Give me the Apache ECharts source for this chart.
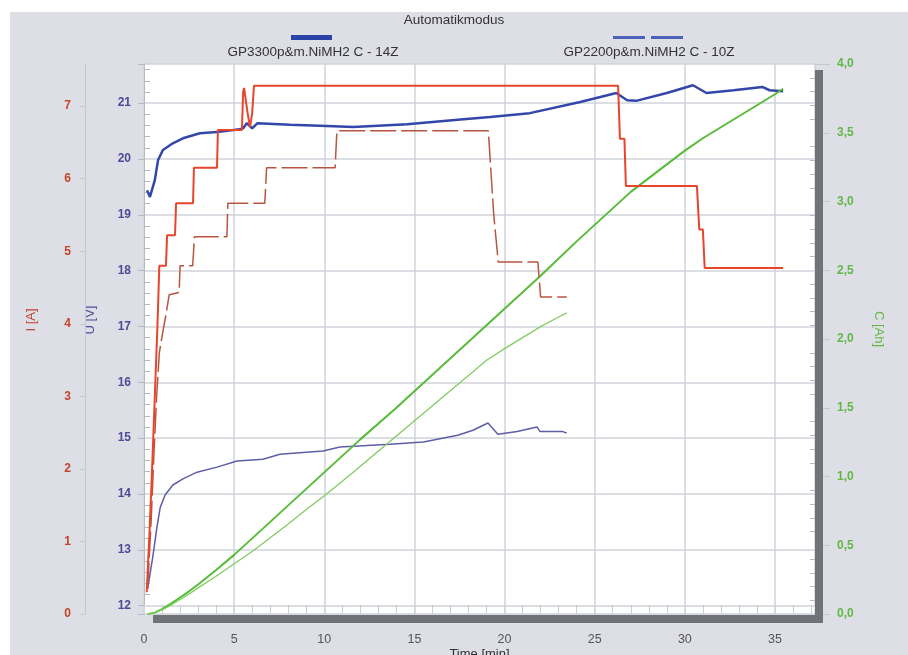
<!DOCTYPE html>
<html><head><meta charset="utf-8">
<script src="https://cdn.jsdelivr.net/npm/echarts@6/dist/echarts.min.js"></script>
<style>html,body{margin:0;padding:0;background:#fff}#c{width:908px;height:655px}</style>
</head><body><div id="c"></div>
<script>
// ---- data (time in min) ----
const title = 'Automatikmodus';
const name14 = 'GP3300p&m.NiMH2 C - 14Z';
const name10 = 'GP2200p&m.NiMH2 C - 10Z';

const tI14 = [0.15,0.3,0.45,0.6,0.75,0.85,0.95,1.22,1.28,1.72,1.78,2.72,2.77,4.05,4.1,5.43,5.5,5.55,5.65,5.75,5.88,6.0,6.1,26.3,26.4,26.65,26.73,30.67,30.8,31.0,31.1,35.45];
const I14  = [0.3,1.1,2.0,3.0,4.0,4.8,4.8,4.8,5.22,5.22,5.66,5.66,6.15,6.15,6.67,6.67,7.2,7.25,7.25,6.9,6.71,6.9,7.28,7.28,6.55,6.55,5.9,5.9,5.3,5.3,4.77,4.77];

const tI10 = [0.2,0.4,0.55,0.7,0.85,1.05,1.2,1.4,1.95,2.0,2.7,2.8,4.6,4.65,6.7,6.8,10.6,10.7,19.1,19.4,19.65,21.85,22.0,23.45];
const I10  = [0.35,1.3,2.2,3.0,3.6,3.9,4.1,4.4,4.43,4.8,4.8,5.2,5.2,5.66,5.66,6.15,6.15,6.66,6.66,5.5,4.85,4.85,4.37,4.37];

const tU14 = [0.17,0.33,0.6,0.78,1.05,1.6,2.16,3.1,4.05,5.3,5.5,5.7,6.0,6.3,8.1,10.15,11.6,14.6,17.4,19.2,21.4,24.2,26.2,26.8,27.3,29.0,30.45,31.2,32.7,34.3,34.7,35.45];
const U14  = [19.44,19.32,19.62,19.98,20.16,20.28,20.37,20.46,20.48,20.53,20.55,20.64,20.55,20.64,20.61,20.59,20.57,20.62,20.70,20.75,20.82,21.02,21.18,21.05,21.04,21.18,21.32,21.18,21.23,21.29,21.23,21.21];

const tU10 = [0.2,0.5,0.72,0.9,1.17,1.6,2.16,2.94,4.05,5.16,6.6,7.54,9.93,10.87,13.64,15.5,17.4,18.25,19.08,19.63,20.7,21.8,21.96,23.2,23.45];
const U10  = [12.3,12.9,13.41,13.76,13.98,14.16,14.27,14.39,14.48,14.59,14.62,14.71,14.77,14.84,14.89,14.93,15.05,15.14,15.27,15.07,15.12,15.2,15.12,15.12,15.09];

const tC14 = [0.2,0.6,1.0,1.5,2.0,2.5,3.0,4.0,5.0,6.0,8.0,10.0,12.0,14.0,16.0,18.0,20.0,22.0,24.0,26.0,27.0,28.0,29.0,30.0,31.0,32.0,33.0,34.0,35.0,35.45];
const C14  = [0,0.01,0.035,0.075,0.12,0.165,0.215,0.32,0.43,0.55,0.79,1.03,1.27,1.5,1.74,1.98,2.22,2.46,2.71,2.95,3.07,3.17,3.27,3.37,3.46,3.54,3.62,3.7,3.78,3.82];

const tC10 = [0.2,0.6,1.0,1.5,2.0,2.5,3.0,4.0,5.0,6.0,7.0,8.0,9.0,10.0,11.0,12.0,14.0,16.0,18.0,19.0,20.0,21.0,22.0,23.0,23.45];
const C10  = [0,0.008,0.03,0.065,0.105,0.145,0.19,0.275,0.365,0.455,0.555,0.655,0.76,0.86,0.965,1.075,1.295,1.515,1.735,1.845,1.93,2.01,2.09,2.16,2.19];

const zip = (a, b) => a.map((v, i) => [v, b[i]]);

const ff = 'Liberation Sans, Arial, sans-serif';
const labelFont = {fontFamily: ff, fontSize: 12, fontWeight: 'bold'};
const nameFont = {fontFamily: ff, fontSize: 13, fontWeight: 'normal'};
const gridCol = '#cfd3da';

const chart = echarts.init(document.getElementById('c'), null, {renderer: 'canvas'});
chart.setOption({
  animation: false,
  backgroundColor: '#dddee6',
  title: {text: title, left: 'center', top: 8, textStyle: {fontFamily: ff, fontSize: 13.5, fontWeight: 'normal', color: '#333'}},
  grid: {left: 144, right: 93, top: 64, bottom: 41, show: true, backgroundColor: '#ffffff', borderWidth: 0, outerBoundsMode: 'none', containLabel: false},
  xAxis: {
    type: 'value', min: 0, max: 37.22, interval: 5,
    name: 'Time [min]', nameLocation: 'middle', nameGap: 34, nameMoveOverlap: false,
    nameTextStyle: Object.assign({}, nameFont, {color: '#333'}),
    axisLine: {show: false},
    axisTick: {show: true, inside: true, length: 9, lineStyle: {color: gridCol}},
    minorTick: {show: true, splitNumber: 5, length: 9, lineStyle: {color: '#c9cdd4'}},
    axisLabel: {margin: 19, color: '#555', fontFamily: ff, fontSize: 12.5, showMaxLabel: false},
    splitLine: {show: true, lineStyle: {color: gridCol, width: 1.5}}
  },
  yAxis: [
    { // U
      type: 'value', position: 'left', min: 11.85, max: 21.7, splitNumber: 10,
      name: 'U [V]', nameLocation: 'middle', nameGap: 47, nameMoveOverlap: false,
      nameTextStyle: Object.assign({}, nameFont, {color: '#4b4b97', padding: [0, 0, 0, 38]}),
      axisLine: {show: true, lineStyle: {color: '#b5b9c2'}},
      axisTick: {show: true, length: 6, lineStyle: {color: '#b5b9c2'}},
      minorTick: {show: true, splitNumber: 5, length: -6, lineStyle: {color: '#b5b9c2'}},
      axisLabel: Object.assign({}, labelFont, {color: '#4b4b97', margin: 13, showMinLabel: false, showMaxLabel: false}),
      splitLine: {show: true, lineStyle: {color: gridCol, width: 1.5}}
    },
    { // I
      type: 'value', position: 'left', offset: 59, min: 0, max: 7.58, interval: 1,
      name: 'I [A]', nameLocation: 'middle', nameGap: 47, nameMoveOverlap: false,
      nameTextStyle: Object.assign({}, nameFont, {color: '#c4442c', padding: [0, 0, 0, 38]}),
      axisLine: {show: true, lineStyle: {color: '#c5c9d2'}},
      axisTick: {show: true, length: 5, lineStyle: {color: '#c5c9d2'}},
      axisLabel: Object.assign({}, labelFont, {color: '#c4442c', margin: 14, showMaxLabel: false}),
      splitLine: {show: false}
    },
    { // C
      type: 'value', position: 'right', min: 0, max: 4, interval: 0.5,
      name: 'C [Ah]', nameLocation: 'middle', nameGap: 57, nameRotate: -90, nameMoveOverlap: false,
      nameTextStyle: Object.assign({}, nameFont, {color: '#62b845', padding: [0, 20, 0, 0]}),
      axisLine: {show: false},
      axisTick: {show: true, length: 15, lineStyle: {color: '#c5c9d2'}},
      minorTick: {show: true, splitNumber: 5, length: -5, lineStyle: {color: '#b5b9c2'}},
      axisLabel: Object.assign({}, labelFont, {color: '#62b845', margin: 22, formatter: v => v.toFixed(1).replace('.', ',')}),
      splitLine: {show: false}
    }
  ],
  graphic: [
    {type: 'rect', z: 100, shape: {x: 0, y: 0, width: 908, height: 12}, style: {fill: '#ffffff'}},
    {type: 'rect', z: 100, shape: {x: 0, y: 0, width: 10, height: 655}, style: {fill: '#ffffff'}},
    {type: 'rect', z: 100, shape: {x: 153, y: 615, width: 670, height: 8}, style: {fill: '#6f7378'}},
    {type: 'rect', z: 100, shape: {x: 815, y: 70, width: 8, height: 553}, style: {fill: '#6f7378'}},
    {type: 'rect', z: 100, shape: {x: 291, y: 35, width: 41, height: 5}, style: {fill: '#2b43a6'}},
    {type: 'text', z: 100, x: 313, y: 52, style: {text: name14, fill: '#333', font: '13.5px "Liberation Sans", Arial, sans-serif', textAlign: 'center', textVerticalAlign: 'middle'}},
    {type: 'rect', z: 100, shape: {x: 613, y: 36, width: 32, height: 3}, style: {fill: '#4d62b8'}},
    {type: 'rect', z: 100, shape: {x: 651, y: 36, width: 32, height: 3}, style: {fill: '#4d62b8'}},
    {type: 'text', z: 100, x: 649, y: 52, style: {text: name10, fill: '#333', font: '13.5px "Liberation Sans", Arial, sans-serif', textAlign: 'center', textVerticalAlign: 'middle'}}
  ],
  series: [
    {name: name14 + ' U', type: 'line', yAxisIndex: 0, data: zip(tU14, U14), showSymbol: false, symbol: 'none', lineStyle: {color: '#3347aa', width: 2.5}},
    {name: name10 + ' U', type: 'line', yAxisIndex: 0, data: zip(tU10, U10), showSymbol: false, symbol: 'none', lineStyle: {color: '#5e5ea6', width: 1.5}},
    {name: name14 + ' C', type: 'line', yAxisIndex: 2, data: zip(tC14, C14), showSymbol: false, symbol: 'none', lineStyle: {color: '#58bb3a', width: 2}},
    {name: name10 + ' C', type: 'line', yAxisIndex: 2, data: zip(tC10, C10), showSymbol: false, symbol: 'none', lineStyle: {color: '#80cc62', width: 1.3}},
    {name: name10 + ' I', type: 'line', yAxisIndex: 1, data: zip(tI10, I10), showSymbol: false, symbol: 'none', lineStyle: {color: '#b8553f', width: 1.5, type: [26, 5]}},
    {name: name14 + ' I', type: 'line', yAxisIndex: 1, data: zip(tI14, I14), showSymbol: false, symbol: 'none', lineStyle: {color: '#e8452c', width: 2}}
  ]
});
</script>
</body></html>
